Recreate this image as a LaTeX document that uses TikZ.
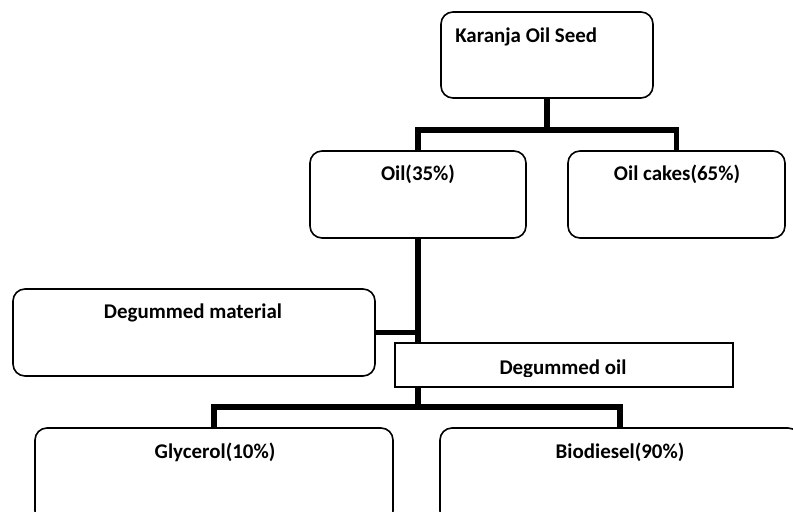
\documentclass[tikz,border=0pt]{standalone}
\usepackage{fontspec}
\setmainfont{Carlito}
\begin{document}
\begin{tikzpicture}[x=0.75pt,y=-0.75pt,
  rbox/.style={draw=black,line width=1.2pt,rounded corners=9pt,inner sep=0pt,fill=white},
  sbox/.style={draw=black,line width=1.1pt,inner sep=0pt,fill=white},
  conn/.style={draw=black,line width=3.9pt},
  lbl/.style={font=\bfseries\fontsize{15.7}{18}\selectfont,inner sep=0pt,anchor=base}]
\clip (0,0) rectangle (793,511);
\fill[white] (0,0) rectangle (793,511);
% boxes
\node[rbox,minimum width=159pt,minimum height=64.5pt] (seed) at (547,55) {};
\node[rbox,minimum width=162pt,minimum height=65.25pt] (oil) at (418,194.5) {};
\node[rbox,minimum width=162.75pt,minimum height=65.25pt] (cakes) at (676.5,194.5) {};
\node[rbox,minimum width=271.5pt,minimum height=65.25pt] (dmat) at (194,332.5) {};
\node[rbox,minimum width=268.5pt,minimum height=71.25pt] (gly) at (214,475.5) {};
\node[rbox,minimum width=270pt,minimum height=71.25pt] (bio) at (620,475.5) {};
% connectors
\coordinate (j1) at (547,130);
\coordinate (j2) at (418,407);
\draw[conn] (seed.south) -- (j1);
\draw[conn] (oil.north) |- (j1) -| (cakes.north);
\node[sbox,minimum width=253.5pt,minimum height=33pt] (doil) at (564,365) {};
\draw[conn] (oil.south) -- (oil.south |- doil.north);
\draw[conn] (dmat.east) -- (oil.south |- dmat.east);
\draw[conn] (oil.south |- doil.south) -- (j2);
\draw[conn] (gly.north) |- (j2) -| (bio.north);
% labels
\node[lbl,anchor=base west] (tseed) at (455,42) {Karanja Oil Seed};
\node[lbl] (toil) at (418,180) {Oil(35\%)};
\node[lbl] (tcakes) at (677,180) {Oil cakes(65\%)};
\node[lbl] (tdmat) at (193,318) {Degummed material};
\node[lbl] (tgly) at (215,458) {Glycerol(10\%)};
\node[lbl] (tbio) at (620,458) {Biodiesel(90\%)};
\begin{scope}
\clip (396,344) rectangle (732,376);
\node[lbl] (tdoil) at (563,374) {Degummed oil};
\end{scope}
\end{tikzpicture}
\end{document}
